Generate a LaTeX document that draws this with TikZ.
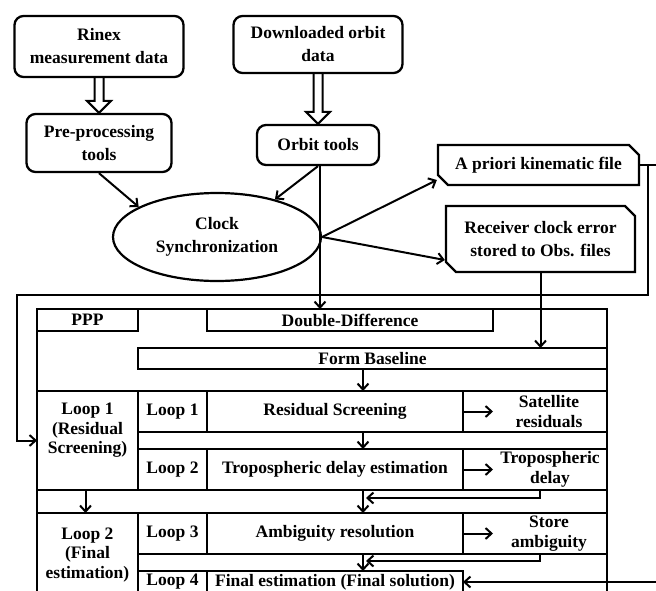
\documentclass[tikz,border=0pt]{standalone}
\usepackage{fontspec}
\setmainfont{Liberation Serif}
\usetikzlibrary{calc,arrows.meta,positioning,shapes.geometric,shapes.misc}
\newcommand{\boxfont}{\fontsize{17.5}{23}\selectfont\bfseries}
\newcommand{\cellfont}{\fontsize{17.5}{19.5}\selectfont\bfseries}
% hollow (outline) arrow from the bottom of one node to the top of another
\newcommand{\hollowarrow}[2]{%
  \draw[line width=2pt,line join=miter] ($(#1.south)+(-4.5,0)$) -- ($(#2.north)+(-4.5,-12)$)
    -- ++(-7.5,0) -- (#2.north) -- ++(12,-12) -- ++(-7.5,0) -- ($(#1.south)+(4.5,0)$);}

\begin{document}
\begin{tikzpicture}[x=1pt,y=-1pt,
   b/.style={draw,line width=2.3pt,rounded corners=9pt,align=center,inner sep=2pt,font=\boxfont},
   sn/.style={draw,line width=2.3pt,chamfered rectangle,chamfered rectangle corners={north east,south west},
              chamfered rectangle xsep=5pt,chamfered rectangle ysep=5pt,align=center,inner sep=2pt,font=\boxfont},
   ov/.style={draw,line width=2.2pt,ellipse,align=center,inner sep=0pt,font=\boxfont},
   c/.style={draw,line width=2pt,anchor=north west,inner sep=0pt,outer sep=0pt,align=center,font=\cellfont},
   t/.style={align=center,inner sep=0pt,font=\cellfont},
   a/.style={-{Straight Barb[length=6pt,width=11pt]},line width=2pt}]
  \useasboundingbox (0,0) rectangle (656,590);
  \clip (0,0) rectangle (656,590);

  % inputs and preparation
  \node[b,minimum width=169,minimum height=61] (rinex) at (99,46.5) {Rinex\\measurement data};
  \node[b,minimum width=169,minimum height=57] (dl) at (318,44.5) {Downloaded orbit\\data};
  \node[b,minimum width=145,minimum height=58] (pre) at (99,143) {Pre-processing\\tools};
  \node[b,minimum width=122,minimum height=40] (orbit) at (318,145) {Orbit tools};
  \node[ov,minimum width=208,minimum height=88] (clock) at (217,237) {Clock\\Synchronization};
  \node[sn,minimum width=201,minimum height=40] (apriori) at (538.5,165) {A priori kinematic file};
  \node[sn,minimum width=189,minimum height=66] (rcv) at (540.5,239) {Receiver clock error\\stored to Obs. files};

  \hollowarrow{rinex}{pre}
  \hollowarrow{dl}{orbit}

  % processing table
  \node[c,minimum width=570,minimum height=291] (frame) at (37,309) {};
  \node[c,minimum width=101,minimum height=22] (ppp) at (37,309) {PPP};
  \node[c,minimum width=286,minimum height=22] (dd) at (207,309) {Double-Difference};
  \node[c,minimum width=469,minimum height=21] (fb) at (138,348) {Form Baseline};

  \node[c,minimum width=101,minimum height=99] (L1big) at (37,391) {};
  \node[t] (L1txt) at ($(L1big.center)+(0,-10)$) {Loop 1\\(Residual\\Screening)};
  \node[c,minimum width=69,minimum height=41] (l1) at (138,391) {Loop 1};
  \node[c,minimum width=256,minimum height=41] (rs) at (207,391) {Residual Screening};
  \node[c,minimum width=144,minimum height=41] (sr) at (463,391) {};
  \node[t] (srtxt) at ($(sr.center)+(14,0)$) {Satellite\\residuals};
  \node[c,minimum width=69,minimum height=41] (l2) at (138,449) {Loop 2};
  \node[c,minimum width=256,minimum height=41] (td) at (207,449) {Tropospheric delay estimation};
  \node[c,minimum width=144,minimum height=41] (tdo) at (463,449) {};
  \node[t] (tdotxt) at ($(tdo.center)+(15,0)$) {Tropospheric\\delay};

  \node[c,minimum width=101,minimum height=84] (L2big) at (37,513) {Loop 2\\(Final\\estimation)};
  \node[c,minimum width=69,minimum height=41] (l3) at (138,513) {Loop 3};
  \node[c,minimum width=256,minimum height=41] (ar) at (207,513) {Ambiguity resolution};
  \node[c,minimum width=144,minimum height=41] (sa) at (463,513) {};
  \node[t] (satxt) at ($(sa.center)+(14,0)$) {Store\\ambiguity};
  \node[c,minimum width=69,minimum height=22] (l4) at (138,571) {Loop 4};
  \node[c,minimum width=256,minimum height=22] (fe) at (207,571) {Final estimation (Final solution)};

  % connectors
  \draw[a] (pre.south) -- (clock.159);
  \draw[a] (orbit.south) -- (clock.33);
  \draw[a] ($(orbit.south)+(2,0)$) -- ($(orbit.south |- dd.north)+(2,0)$);
  \draw[a] (clock.east) -- ($(apriori.west)+(0,15)$);
  \draw[a] (clock.east) -- ($(rcv.west)+(0,21)$);
  \draw[a] (rcv.south) -- (rcv.south |- fb.north);

  \coordinate (lbend) at (17,295);
  \coordinate (edgeA) at (656,165);
  \coordinate (edgeF) at (656,582);
  \draw[a] (apriori.east) -- ++(8,0) coordinate (kr) |- (lbend) |- (L1big.west);
  \draw[line width=2pt] (kr) -- (edgeA);
  \draw[a] (edgeF) -- (fe.east);

  \coordinate (vx) at (363,0);
  \draw[a] (vx |- fb.south) -- (vx |- rs.north);
  \draw[a] (vx |- rs.south) -- (vx |- td.north);
  \draw[a] (vx |- td.south) -- (vx |- ar.north);
  \draw[a] (vx |- ar.south) -- (vx |- fe.north);
  \draw[a] ($(L1big.south)+(-2,0)$) -- ($(L2big.north)+(-2,0)$);
  \draw[a] ($(tdo.south)+(5,0)$) -- ++(0,8) -- ($(vx |- td.south)+(3,8)$);
  \draw[a] ($(sa.south)+(5,0)$) -- ++(0,7) -- ($(vx |- ar.south)+(3,7)$);

  \draw[a] (sr.west) -- ++(30,0);
  \draw[a] (tdo.west) -- ++(30,0);
  \draw[a] (sa.west) -- ++(30,0);
\end{tikzpicture}
\end{document}
